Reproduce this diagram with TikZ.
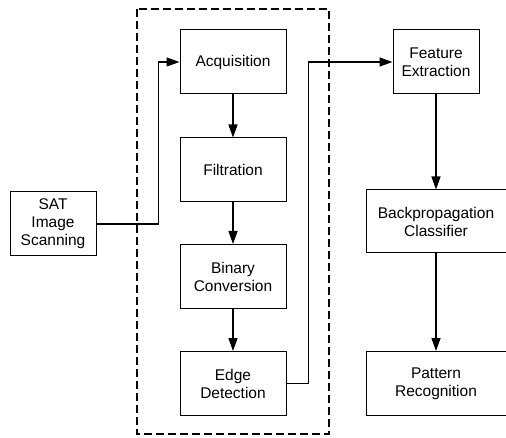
\documentclass[tikz,border=0pt]{standalone}
\usepackage{fontspec}
\setmainfont{Liberation Sans}
\usetikzlibrary{arrows.meta,positioning}

\begin{document}
\begin{tikzpicture}[x=1pt,y=-1pt,
  stage/.style={draw,line width=1pt,minimum width=106pt,minimum height=64pt,
    align=center,inner sep=0pt,font=\fontsize{15.5}{18}\selectfont},
  flow/.style={line width=1.3pt,-{Triangle[length=13pt,width=9pt]}},
  groupbox/.style={line width=1.3pt,dash pattern=on 8pt off 4pt}]
  \useasboundingbox (0,0) rectangle (506,438);
  % preprocessing group
  \draw[groupbox] (137,9) rectangle (329,434);
  \node[stage] (acq)  at (233,62)    {Acquisition};
  \node[stage] (filt) at (233,170)   {Filtration};
  \node[stage] (bin)  at (233,276.5) {Binary\\Conversion};
  \node[stage] (edge) at (233,383.5) {Edge\\Detection};
  \node[stage,minimum width=86pt] (sat)  at (53,224) {SAT\\Image\\Scanning};
  \node[stage,minimum width=86pt] (feat) at (436,62) {Feature\\Extraction};
  \node[stage,minimum width=140pt,minimum height=63pt] (back) at (436,221.5) {Backpropagation\\Classifier};
  \node[stage,minimum width=140pt] (pat) at (436,383.5) {Pattern\\Recognition};
  % connectors
  \draw[flow] (sat.east) -- ++(62,0) |- (acq.west);
  \draw[flow] (acq) -- (filt);
  \draw[flow] (filt) -- (bin);
  \draw[flow] (bin) -- (edge);
  \draw[flow] (edge.east) -- ++(22,0) |- (feat.west);
  \draw[flow] (feat) -- (back);
  \draw[flow] (back) -- (pat);
\end{tikzpicture}
\end{document}
